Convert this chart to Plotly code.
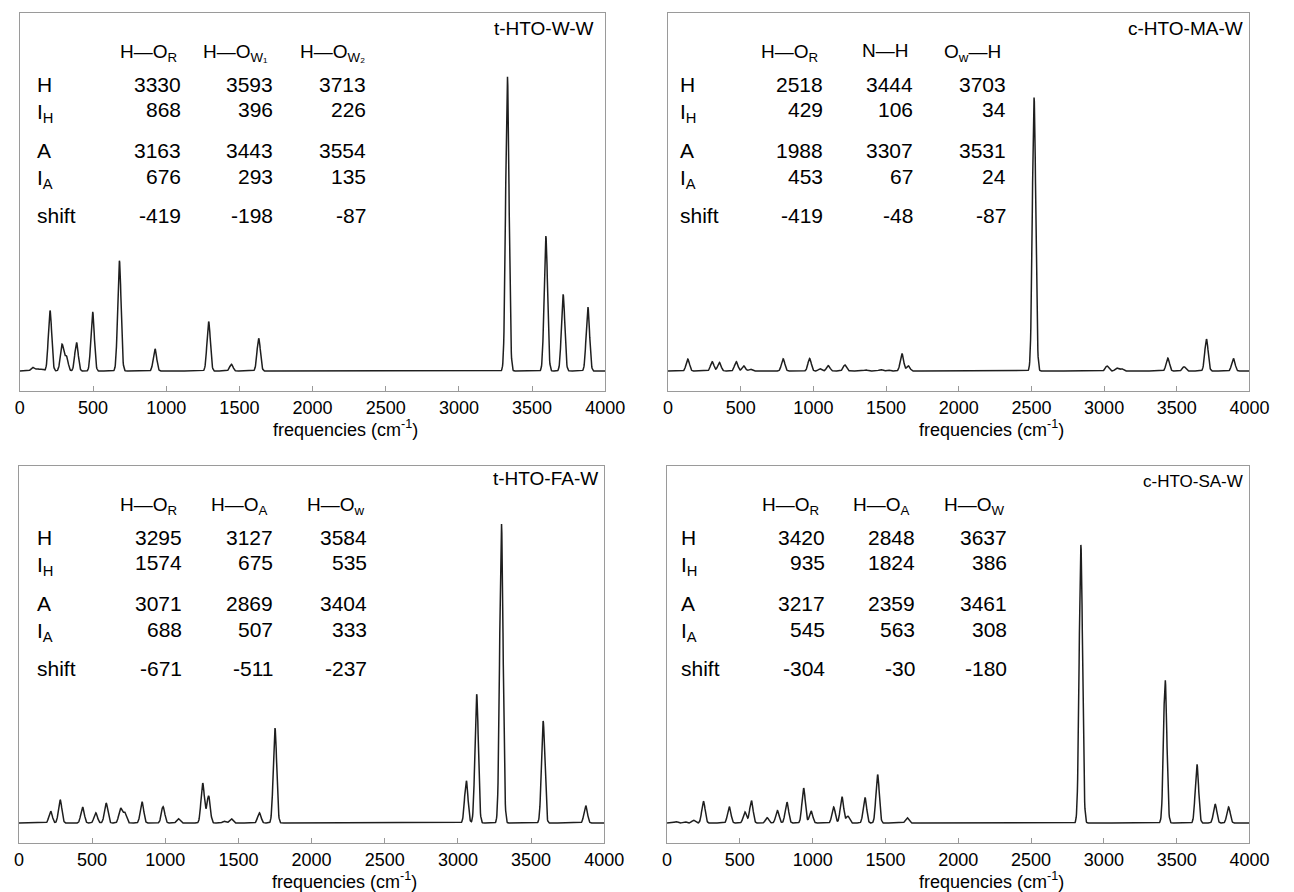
import numpy as np
import plotly.graph_objects as go

# page is 1294x892; the browser body adds an 8px margin, so the figure is drawn
# 8px in from the top-left corner and is sized to fill the rest of the window.
PAGE_W, PAGE_H = 1294, 892
OFF = 8
W, H = PAGE_W - OFF, PAGE_H - OFF

# ---------------- data ----------------
freq_ticks = [0, 500, 1000, 1500, 2000, 2500, 3000, 3500, 4000]
tick_labels = ["0", "500", "1000", "1500", "2000", "2500", "3000", "3500", "4000"]

# panel titles
titles = ["t-HTO-W-W", "c-HTO-MA-W", "t-HTO-FA-W", "c-HTO-SA-W"]

# table headers
headers_1 = ["H—O<sub>R</sub>", "H—O<sub>W₁</sub>", "H—O<sub>W₂</sub>"]
headers_2 = ["H—O<sub>R</sub>", "N—H", "O<sub>w</sub>—H"]
headers_3 = ["H—O<sub>R</sub>", "H—O<sub>A</sub>", "H—O<sub>w</sub>"]
headers_4 = ["H—O<sub>R</sub>", "H—O<sub>A</sub>", "H—O<sub>W</sub>"]

row_labels = ["H", "I<sub>H</sub>", "A", "I<sub>A</sub>", "shift"]

table_1 = [["3330", "3593", "3713"], ["868", "396", "226"], ["3163", "3443", "3554"],
           ["676", "293", "135"], ["-419", "-198", "-87"]]
table_2 = [["2518", "3444", "3703"], ["429", "106", "34"], ["1988", "3307", "3531"],
           ["453", "67", "24"], ["-419", "-48", "-87"]]
table_3 = [["3295", "3127", "3584"], ["1574", "675", "535"], ["3071", "2869", "3404"],
           ["688", "507", "333"], ["-671", "-511", "-237"]]
table_4 = [["3420", "2848", "3637"], ["935", "1824", "386"], ["3217", "2359", "3461"],
           ["545", "563", "308"], ["-304", "-30", "-180"]]

peaks_1_freq = [87, 120, 152, 206, 288, 318, 387, 497, 680, 923, 1290, 1445, 1632,
                3331, 3594, 3712, 3881]
peaks_1_height = [0.010, 0.006, 0.005, 0.169, 0.074, 0.040, 0.080, 0.166, 0.308, 0.062,
                  0.138, 0.019, 0.091, 0.825, 0.377, 0.214, 0.179]

peaks_2_freq = [136, 304, 353, 469, 521, 567, 792, 974, 1045, 1102, 1216, 1362, 1463,
                1514, 1609, 1653, 2518, 3020, 3088, 3121, 3438, 3550, 3704, 3889]
peaks_2_height = [0.033, 0.026, 0.024, 0.026, 0.014, 0.005, 0.034, 0.035, 0.006, 0.015,
                  0.017, 0.003, 0.004, 0.003, 0.049, 0.014, 0.764, 0.014, 0.008, 0.006,
                  0.036, 0.012, 0.089, 0.035]

peaks_3_freq = [217, 282, 435, 525, 596, 694, 723, 841, 985, 1090, 1256, 1296, 1403,
                1451, 1643, 1750, 3057, 3128, 3297, 3582, 3873]
peaks_3_height = [0.033, 0.065, 0.045, 0.029, 0.056, 0.041, 0.029, 0.060, 0.046, 0.012,
                  0.112, 0.076, 0.005, 0.012, 0.029, 0.266, 0.119, 0.361, 0.841, 0.286,
                  0.049]

peaks_4_freq = [60, 120, 182, 250, 427, 535, 579, 688, 758, 823, 938, 989, 1144, 1201,
                1242, 1359, 1446, 1649, 2842, 3421, 3639, 3764, 3856]
peaks_4_height = [0.004, 0.004, 0.008, 0.061, 0.046, 0.031, 0.063, 0.015, 0.035, 0.059,
                  0.098, 0.034, 0.045, 0.074, 0.019, 0.072, 0.136, 0.015, 0.779, 0.401,
                  0.165, 0.053, 0.045]

# ---------------- layout constants ----------------
SIGMA = 11.5
grid = np.arange(0, 4001, 2.0)

# panel boxes in page pixels: left, right, top, bottom
boxes = [(15, 612, 13, 391), (676, 1269, 13, 391), (14, 611, 466, 843), (675, 1269, 466, 843)]
peak_sets = [(peaks_1_freq, peaks_1_height), (peaks_2_freq, peaks_2_height),
             (peaks_3_freq, peaks_3_height), (peaks_4_freq, peaks_4_height)]
headers = [headers_1, headers_2, headers_3, headers_4]
tables = [table_1, table_2, table_3, table_4]

label_left = [15, 10, 16, 12]                    # row label left offset from box left
num_right = [(166, 260, 355), (160, 252, 347), (168, 261, 357), (163, 255, 349)]
head_center = [(131, 220, 319), (124, 221, 311), (132, 225, 323), (126, 219, 314)]
title_right = [9, 5, 4, 5]
title_dy = [15, 15, 12, 15.5]
title_size = [19, 19, 19, 17]
row_dy = [71, 96.5, 137, 163, 202.5]
head_dy = 37

INK = "#1e1e1e"
FRAME = "#9a9a9a"
FONT = "Liberation Sans, Arial, sans-serif"


def px(x):
    return (x - OFF) / W


def py(y):
    return 1 - (y - OFF) / H


fig = go.Figure()
annotations = []

for i, (box, (pf, ph)) in enumerate(zip(boxes, peak_sets)):
    l, r, t, b = box
    n = "" if i == 0 else str(i + 1)
    spec = np.zeros_like(grid)
    for f, h in zip(pf, ph):
        spec += h * np.exp(-0.5 * ((grid - f) / SIGMA) ** 2)
    fig.add_trace(go.Scatter(x=grid, y=spec, mode="lines", xaxis="x" + n, yaxis="y" + n,
                             line=dict(color=INK, width=1.5), hoverinfo="skip",
                             showlegend=False))
    fig.update_layout(**{
        "xaxis" + n: dict(domain=[px(l), px(r)], range=[0, 4000], anchor="y" + n,
                          tickvals=freq_ticks, ticktext=tick_labels, ticks="inside",
                          ticklen=5, tickcolor=FRAME, tickwidth=1,
                          showline=True, linecolor=FRAME, linewidth=1.3, mirror=True,
                          showgrid=False, zeroline=False,
                          tickfont=dict(size=18, color="black", family=FONT)),
        "yaxis" + n: dict(domain=[py(b), py(t)], range=[-20 / 358, 1.0], anchor="x" + n,
                          showline=True, linecolor=FRAME, linewidth=1.3, mirror=True,
                          showgrid=False, zeroline=False, showticklabels=False, ticks=""),
    })

    # axis title
    annotations.append(dict(text="frequencies (cm<sup>-1</sup>)", xref="paper", yref="paper",
                            x=px(l + 0.557 * (r - l)), y=py(b + 37), xanchor="center",
                            yanchor="middle", showarrow=False,
                            font=dict(size=18, color="black", family=FONT)))
    # panel title
    annotations.append(dict(text=titles[i], xref="paper", yref="paper",
                            x=px(r - title_right[i]), y=py(t + title_dy[i]), xanchor="right",
                            yanchor="middle", showarrow=False,
                            font=dict(size=title_size[i], color="black", family=FONT)))
    # headers
    for j, htxt in enumerate(headers[i]):
        has_sub = "<sub>" in htxt
        annotations.append(dict(text=htxt, xref="paper", yref="paper",
                                x=px(l + head_center[i][j]), y=py(t + head_dy),
                                xanchor="center", yanchor="middle", showarrow=False,
                                yshift=-3 if has_sub else 0,
                                font=dict(size=19, color="black", family=FONT)))
    # row labels and numbers
    for k, lab in enumerate(row_labels):
        has_sub = "<sub>" in lab
        annotations.append(dict(text=lab, xref="paper", yref="paper",
                                x=px(l + label_left[i]), y=py(t + row_dy[k]),
                                xanchor="left", yanchor="middle", showarrow=False,
                                yshift=-3 if has_sub else 0,
                                font=dict(size=21, color="black", family=FONT)))
        for j, val in enumerate(tables[i][k]):
            annotations.append(dict(text=val, xref="paper", yref="paper",
                                    x=px(l + num_right[i][j]), y=py(t + row_dy[k]),
                                    xanchor="right", yanchor="middle", showarrow=False,
                                    font=dict(size=21, color="black", family=FONT)))

fig.update_layout(width=W, height=H, margin=dict(l=0, r=0, t=0, b=0),
                  paper_bgcolor="white", plot_bgcolor="white",
                  annotations=annotations, font=dict(family=FONT))

fig.write_html("out.html")
